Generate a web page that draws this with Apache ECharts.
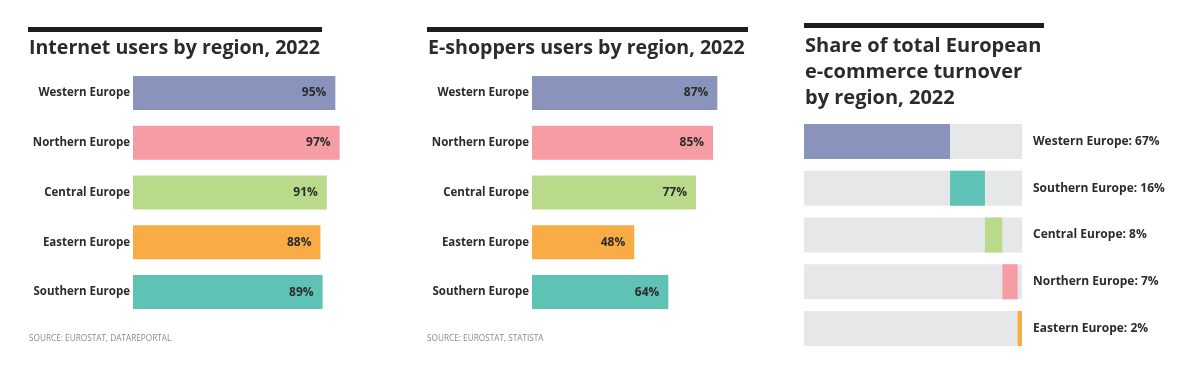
<!DOCTYPE html>
<html><head><meta charset="utf-8">
<script src="https://cdn.jsdelivr.net/npm/echarts@6/dist/echarts.min.js"></script>
<style>html,body{margin:0;padding:0;background:#fff}#c{width:1192px;height:381px}</style>
</head><body><div id="c"></div>
<script>
const regions1 = ['Western Europe','Northern Europe','Central Europe','Eastern Europe','Southern Europe'];
const internetUsers = [95, 97, 91, 88, 89];
const eShoppers = [87, 85, 77, 48, 64];
const regions3 = ['Western Europe','Southern Europe','Central Europe','Northern Europe','Eastern Europe'];
const turnoverShare = [67, 16, 8, 7, 2];
const colorsByRegion = {
  'Western Europe':'#8a93bb','Northern Europe':'#f59ca4','Central Europe':'#b9da8b',
  'Eastern Europe':'#f9ab45','Southern Europe':'#5ec3b5'
};
const titles = ['Internet users by region, 2022','E-shoppers users by region, 2022','Share of total European\ne-commerce turnover\nby region, 2022'];
const sources = ['SOURCE: EUROSTAT, DATAREPORTAL','SOURCE: EUROSTAT, STATISTA'];

const FONT = '"Open Sans", "Noto Sans", sans-serif';
const DARK = '#2b2b2b';
const offsets = turnoverShare.map((v,i)=>turnoverShare.slice(0,i).reduce((a,b)=>a+b,0));

const chart = echarts.init(document.getElementById('c'), null, {renderer:'canvas'});
function catAxis(idx, data){
  return {type:'category', gridIndex:idx, data:data, inverse:true,
    axisLine:{show:false}, axisTick:{show:false},
    axisLabel:{color:DARK, fontWeight:'bold', fontSize:11.5, fontFamily:FONT, margin:3}};
}
function valAxis(idx){
  return {type:'value', gridIndex:idx, min:0, max:100, show:false, splitLine:{show:false}};
}
function barSeries(idx, cats, vals){
  return {type:'bar', xAxisIndex:idx, yAxisIndex:idx, barWidth:34,
    data: vals.map((v,i)=>({value:v, itemStyle:{color:colorsByRegion[cats[i]]}})),
    label:{show:true, position:'insideRight', distance:9, formatter:'{c}%', color:DARK,
      fontWeight:'bold', fontSize:12, fontFamily:FONT},
    silent:true, animation:false};
}
const y3 = catAxis(2, regions3);
y3.position = 'right';
y3.axisLabel = Object.assign({}, y3.axisLabel, {margin:11, align:'left', fontSize:12,
  formatter:(v, i)=> v + ': ' + turnoverShare[regions3.indexOf(v)] + '%'});

const titleStyle = {fontFamily:FONT, fontWeight:'bold', fontSize:19.6, color:DARK};
const option = {
  animation:false,
  title: [
    {text:titles[0], left:29, top:38, padding:0, textStyle:titleStyle},
    {text:titles[1], left:428, top:38, padding:0, textStyle:titleStyle},
    {text:titles[2], left:805, top:33, padding:0, textStyle:Object.assign({}, titleStyle, {fontSize:20, lineHeight:26})}
  ],
  graphic: [
    {type:'rect', shape:{x:28, y:27, width:294, height:5}, style:{fill:'#1d1d1d'}},
    {type:'rect', shape:{x:427, y:27, width:321, height:5}, style:{fill:'#1d1d1d'}},
    {type:'rect', shape:{x:804, y:23, width:240, height:5}, style:{fill:'#1d1d1d'}},
    {type:'text', x:29, y:334, scaleX:0.915, style:{text:sources[0], fill:'#8a8a8a', font:'9px "Open Sans", sans-serif'}},
    {type:'text', x:427, y:334, scaleX:0.915, style:{text:sources[1], fill:'#8a8a8a', font:'9px "Open Sans", sans-serif'}}
  ],
  grid: [
    {left:133, width:213, top:68, height:249},
    {left:532, width:213, top:68, height:249},
    {left:804, width:218, top:118, height:234}
  ],
  xAxis: [valAxis(0), valAxis(1), valAxis(2)],
  yAxis: [catAxis(0, regions1), catAxis(1, regions1), y3],
  series: [
    barSeries(0, regions1, internetUsers),
    barSeries(1, regions1, eShoppers),
    {type:'bar', xAxisIndex:2, yAxisIndex:2, stack:'s', barWidth:35, data:offsets,
      showBackground:true, backgroundStyle:{color:'#e6e7e8'},
      itemStyle:{color:'rgba(0,0,0,0)'}, silent:true},
    {type:'bar', xAxisIndex:2, yAxisIndex:2, stack:'s', barWidth:35,
      data: turnoverShare.map((v,i)=>({value:v, itemStyle:{color:colorsByRegion[regions3[i]]}})),
      silent:true}
  ]
};
chart.setOption(option);
</script></body></html>
